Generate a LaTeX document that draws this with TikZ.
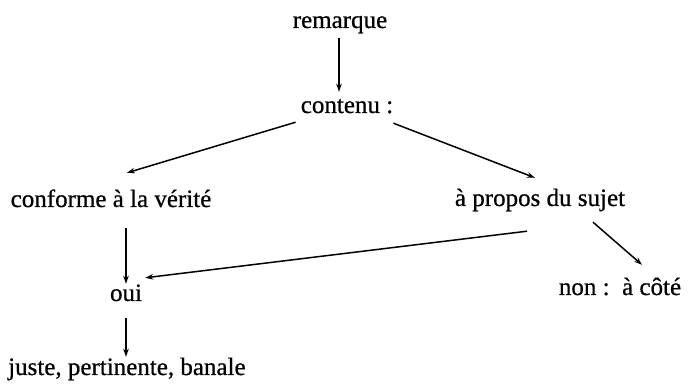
\documentclass[tikz,border=0pt]{standalone}
\usepackage{fontspec}
\setmainfont{Liberation Serif}[FakeBold=0.7]
\usetikzlibrary{arrows.meta}
\begin{document}
\begin{tikzpicture}[x=1pt,y=1pt,
  lbl/.style={inner sep=0pt, anchor=base, text height=17pt, text depth=6pt,
              font=\fontsize{25}{30}\selectfont},
  arr/.style={line width=1.5pt, -{Stealth[length=8pt,width=5.5pt]}}]
\useasboundingbox (0,0) rectangle (688,388);

% labels
\node[lbl] (remarque) at (340,360) {remarque};
\node[lbl] (contenu)  at (347,275) {contenu :};
\node[lbl] (conforme) at (111,181) {conforme à la vérité};
\node[lbl] (apropos)  at (540,182) {à propos du sujet};
\node[lbl] (oui)      at (126,87)  {oui};
\node[lbl] (non)      at (620,93)  {non :\ \ à côté};
\node[lbl, anchor=base west] (juste) at (8,13) {juste, pertinente, banale};

% connectors
\draw[arr] ([xshift=-1pt,yshift=-4pt]remarque.south) -- ([xshift=-8pt,yshift=4pt]contenu.north);
\draw[arr] ([xshift=-5pt,yshift=-3pt]contenu.south west) -- ([xshift=16pt,yshift=17pt]conforme.north);
\draw[arr] ([yshift=-4pt]contenu.south east) -- ([xshift=-5pt,yshift=11pt]apropos.north);
\draw[arr] ([xshift=15pt,yshift=-15pt]conforme.south) -- (oui.north);
\draw[arr] ([xshift=-13pt,yshift=-19pt]apropos.south) -- ([xshift=3pt,yshift=6pt]oui.north east);
\draw[arr] ([xshift=53pt,yshift=-10pt]apropos.south) -- ([xshift=22pt,yshift=13pt]non.north);
\draw[arr] ([yshift=-11pt]oui.south) -- ([yshift=1pt]oui.south |- juste.north);
\end{tikzpicture}
\end{document}
